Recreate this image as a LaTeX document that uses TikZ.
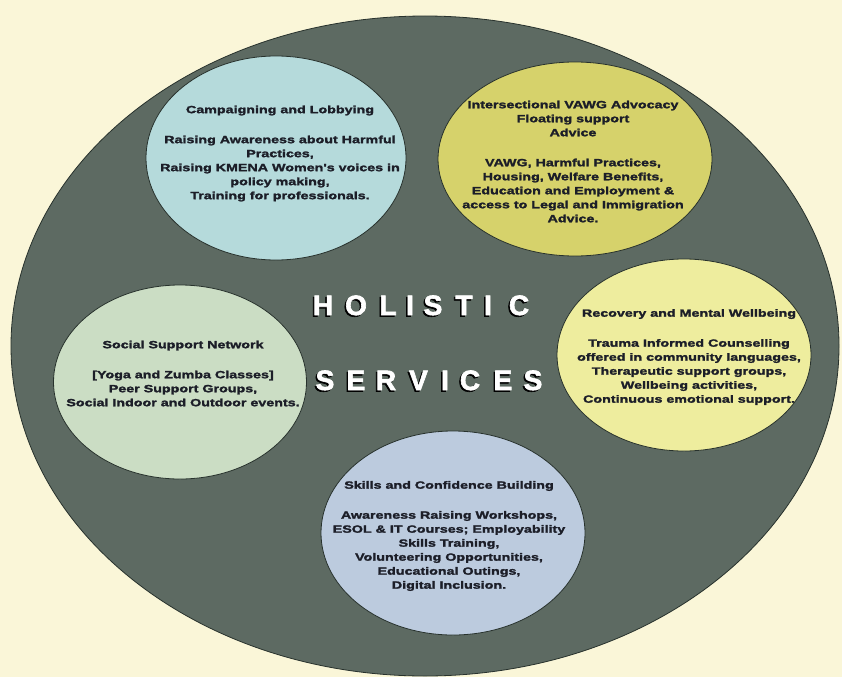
\documentclass[tikz,border=0pt]{standalone}
\usepackage{fontspec}
\usetikzlibrary{shapes.geometric}
\newfontfamily\blobfont{Liberation Sans Bold}[FakeStretch=1.36, FakeBold=2]
\newfontfamily\headfont{Liberation Sans Bold}[FakeBold=2.2]
\definecolor{paper}{RGB}{250, 246, 216}
\definecolor{slate}{RGB}{93, 106, 98}
\definecolor{slatedark}{RGB}{40, 50, 45}
\definecolor{aqua}{RGB}{181, 218, 219}
\definecolor{olive}{RGB}{214, 210, 107}
\definecolor{lemon}{RGB}{238, 237, 158}
\definecolor{sage}{RGB}{203, 221, 196}
\definecolor{mist}{RGB}{188, 203, 222}
\definecolor{inkdark}{RGB}{28, 30, 40}

\tikzset{
  blob/.style={ellipse, draw=slatedark, line width=0.8pt, inner sep=0pt},
  blurb/.style={align=center, text=inkdark, inner sep=0pt,
    font=\blobfont\fontsize{10.5}{14}\selectfont},
  bigletter/.style={anchor=base, inner sep=0pt,
    font=\headfont\fontsize{28}{28}\selectfont}
}

\begin{document}
\begin{tikzpicture}[x=1pt, y=-1pt]
    % Page and backdrop
    \useasboundingbox (0,0) rectangle (842,677);
    \fill[paper] (0,0) rectangle (842,677);
    \node[blob, fill=slate, minimum width=828pt, minimum height=660pt] (disc) at (425,346) {};

    % Service circles
    \node[blob, fill=aqua, minimum width=260pt, minimum height=204pt] (camp) at (276,158) {};
    \node[blob, fill=olive, minimum width=274pt, minimum height=194pt] (vawg) at (575,159) {};
    \node[blob, fill=lemon, minimum width=254pt, minimum height=192pt] (recov) at (684,355) {};
    \node[blob, fill=sage, minimum width=253pt, minimum height=194pt] (social) at (180,382) {};
    \node[blob, fill=mist, minimum width=264pt, minimum height=204pt] (skills) at (453,533) {};

    % Circle texts
    \node[blurb] (camptext) at (280,153.5) {Campaigning and Lobbying\\[16pt]
        Raising Awareness about Harmful\\ Practices,\\ Raising KMENA Women's voices in\\
        policy making,\\ Training for professionals.};
    \node[blurb] (vawgtext) at (573,161.5) {Intersectional VAWG Advocacy\\ Floating support\\ Advice\\[16pt]
        VAWG, Harmful Practices,\\ Housing, Welfare Benefits,\\ Education and Employment \&\\
        access to Legal and Immigration\\ Advice.};
    \node[blurb] (recovtext) at (689,357) {Recovery and Mental Wellbeing\\[16pt]
        Trauma Informed Counselling\\ offered in community languages,\\ Therapeutic support groups,\\
        Wellbeing activities,\\ Continuous emotional support.};
    \node[blurb] (socialtext) at (183,373.5) {Social Support Network\\[16pt]
        {[}Yoga and Zumba Classes{]}\\ Peer Support Groups,\\ Social Indoor and Outdoor events.};
    \node[blurb] (skillstext) at (449,536) {Skills and Confidence Building\\[16pt]
        Awareness Raising Workshops,\\ ESOL \& IT Courses; Employability\\ Skills Training,\\
        Volunteering Opportunities,\\ Educational Outings,\\ Digital Inclusion.};

    % Centre title, one letter at a time
    \foreach \ch/\px [count=\k] in {H/323, O/356, L/388, I/410, S/433, T/464, I/488, C/519} {
        \node[bigletter, text=black] at (\px-1.5, 316.5) {\ch};
        \node[bigletter, text=white] (hol\k) at (\px, 315) {\ch};
    }
    \foreach \ch/\px [count=\k] in {S/325, E/356, R/386, V/418.5, I/445, C/470, E/503, S/533} {
        \node[bigletter, text=black] at (\px-1.5, 391.5) {\ch};
        \node[bigletter, text=white] (ser\k) at (\px, 390) {\ch};
    }
\end{tikzpicture}
\end{document}
